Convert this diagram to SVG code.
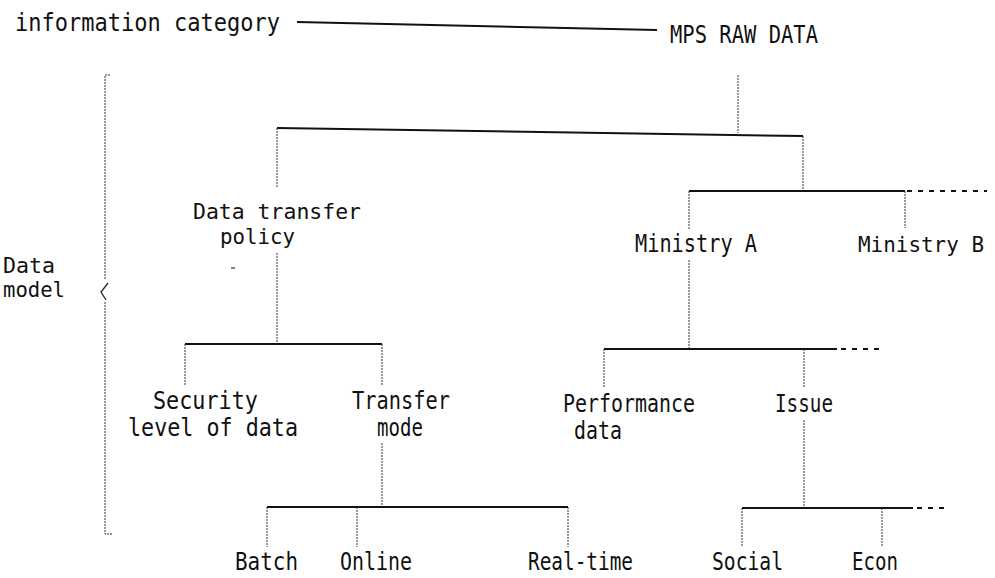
<svg xmlns="http://www.w3.org/2000/svg" width="995" height="578" viewBox="0 0 995 578">
<style>
text{font-family:"DejaVu Sans Mono","Liberation Mono",monospace;font-size:25px;fill:#111}
.s{font-size:21px}
.h{stroke:#111;stroke-width:2;fill:none}
.v{stroke:#333;stroke-width:1;stroke-dasharray:2 1;fill:none}
.d{stroke:#111;stroke-width:2;stroke-dasharray:5 6;fill:none}
</style>
<rect width="995" height="578" fill="#fff"/>
<g id="connectors">
<line class="h" x1="297" y1="22" x2="657" y2="30"/>
<line class="v" x1="738" y1="75" x2="738" y2="133"/>
<line class="h" x1="277" y1="128" x2="803" y2="136"/>
<line class="v" x1="803" y1="136" x2="803" y2="191"/>
<line class="h" x1="689" y1="191" x2="905" y2="191"/>
<line class="d" x1="907" y1="191" x2="987" y2="191"/>
<line class="v" x1="905" y1="191" x2="905" y2="228"/>
<line class="v" x1="689" y1="191" x2="689" y2="230"/>
<line class="v" x1="689" y1="260" x2="689" y2="349"/>
<line class="h" x1="604" y1="349" x2="837" y2="349"/>
<line class="d" x1="841" y1="349" x2="885" y2="349"/>
<line class="v" x1="604" y1="349" x2="604" y2="387"/>
<line class="v" x1="804" y1="349" x2="804" y2="387"/>
<line class="v" x1="804" y1="420" x2="804" y2="508"/>
<line class="h" x1="742" y1="508" x2="913" y2="508"/>
<line class="d" x1="917" y1="508" x2="950" y2="508"/>
<line class="v" x1="742" y1="508" x2="742" y2="547"/>
<line class="v" x1="882" y1="508" x2="882" y2="547"/>
<line class="v" x1="277" y1="128" x2="277" y2="188"/>
<line class="v" x1="277" y1="253" x2="277" y2="344"/>
<line class="h" x1="185" y1="344" x2="382" y2="344"/>
<line class="v" x1="185" y1="344" x2="185" y2="385"/>
<line class="v" x1="382" y1="344" x2="382" y2="385"/>
<line class="v" x1="382" y1="443" x2="382" y2="507"/>
<line class="h" x1="267" y1="507" x2="568" y2="507"/>
<line class="v" x1="267" y1="507" x2="267" y2="547"/>
<line class="v" x1="357" y1="507" x2="357" y2="547"/>
<line class="v" x1="568" y1="507" x2="568" y2="547"/>
<polyline class="v" points="110,75 105,75 105,280"/>
<polyline points="108,283 101,292 106,300" fill="none" stroke="#222" stroke-width="1.3"/>
<polyline class="v" points="105,302 105,534 113,534"/>
<line x1="231" y1="268" x2="235" y2="268" stroke="#555" stroke-width="1.5"/>
</g>
<g id="info-category"><text x="15" y="31" textLength="265" lengthAdjust="spacingAndGlyphs">information category</text></g>
<g id="mps-raw-data"><text x="670" y="43" textLength="148" lengthAdjust="spacingAndGlyphs">MPS RAW DATA</text></g>
<g id="data-model"><text class="s" x="3" y="273" textLength="52" lengthAdjust="spacingAndGlyphs">Data</text><text class="s" x="3" y="297" textLength="62" lengthAdjust="spacingAndGlyphs">model</text></g>
<g id="data-transfer-policy"><text class="s" x="193" y="219" textLength="168" lengthAdjust="spacingAndGlyphs">Data transfer</text><text class="s" x="220" y="244" textLength="75" lengthAdjust="spacingAndGlyphs">policy</text></g>
<g id="ministry-a"><text x="635" y="252" textLength="122" lengthAdjust="spacingAndGlyphs">Ministry A</text></g>
<g id="ministry-b"><text class="s" x="858" y="252" textLength="126" lengthAdjust="spacingAndGlyphs">Ministry B</text></g>
<g id="security"><text x="153" y="409" textLength="105" lengthAdjust="spacingAndGlyphs">Security</text><text x="128" y="436" textLength="170" lengthAdjust="spacingAndGlyphs">level of data</text></g>
<g id="transfer-mode"><text x="352" y="409" textLength="98" lengthAdjust="spacingAndGlyphs">Transfer</text><text x="377" y="436" textLength="46" lengthAdjust="spacingAndGlyphs">mode</text></g>
<g id="performance-data"><text x="563" y="412" textLength="132" lengthAdjust="spacingAndGlyphs">Performance</text><text x="574" y="439" textLength="48" lengthAdjust="spacingAndGlyphs">data</text></g>
<g id="issue"><text x="775" y="412" textLength="58" lengthAdjust="spacingAndGlyphs">Issue</text></g>
<g id="batch"><text x="235" y="570" textLength="63" lengthAdjust="spacingAndGlyphs">Batch</text></g>
<g id="online"><text x="340" y="570" textLength="72" lengthAdjust="spacingAndGlyphs">Online</text></g>
<g id="real-time"><text x="528" y="570" textLength="105" lengthAdjust="spacingAndGlyphs">Real-time</text></g>
<g id="social"><text x="712" y="570" textLength="71" lengthAdjust="spacingAndGlyphs">Social</text></g>
<g id="econ"><text x="852" y="570" textLength="46" lengthAdjust="spacingAndGlyphs">Econ</text></g>
</svg>
